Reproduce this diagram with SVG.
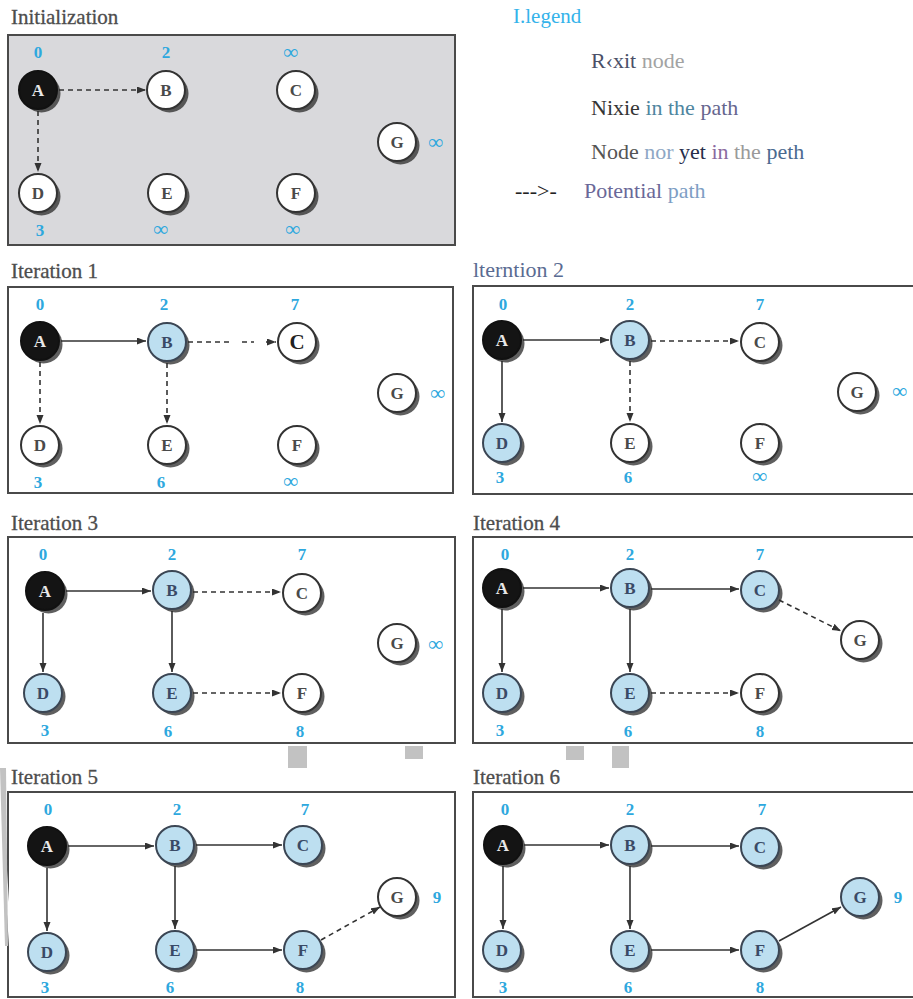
<svg xmlns="http://www.w3.org/2000/svg" width="913" height="999" viewBox="0 0 913 999" font-family="Liberation Serif, Times New Roman, serif">
<style>
.panel{stroke:#4a4a4a;stroke-width:2}
.title{font-size:21px;fill:#4d4d4d;stroke:#4d4d4d;stroke-width:0.3}
.sh{fill:#2a2a2a;opacity:0.75}
.nw{fill:#fff;stroke:#333;stroke-width:2}
.nb{fill:#bddff0;stroke:#3b4654;stroke-width:2}
.na{fill:#141414;stroke:#111;stroke-width:2}
.lt{font-weight:bold;font-size:17px;fill:#4a4a4a;text-anchor:middle}
.ltb{font-weight:bold;font-size:17px;fill:#3a4a66;text-anchor:middle}
.lta{font-weight:bold;font-size:17px;fill:#e8e8e8;text-anchor:middle}
.num{font-weight:bold;font-size:17px;fill:#2ea8de;text-anchor:middle}
.inf{font-weight:bold;font-size:21px;fill:#2ea8de;text-anchor:middle}
.e{stroke:#333;stroke-width:1.6;fill:none;marker-end:url(#ah)}
.d{stroke:#333;stroke-width:1.6;fill:none;stroke-dasharray:5 4;marker-end:url(#ah)}
.leg{font-size:22px}
.art{fill:#c2c2c2}
</style>
<defs>
<marker id="ah" markerUnits="userSpaceOnUse" markerWidth="10" markerHeight="8" refX="9" refY="3.5" orient="auto">
<path d="M0,0 L9,3.5 L0,7 z" fill="#333"/>
</marker>
</defs>

<!-- Legend -->
<g id="legend" font-family="Liberation Serif, serif">
<text x="513" y="23" font-size="21" fill="#35b3ea">I.legend</text>
<text x="591" y="68" class="leg"><tspan fill="#4a5068">R‹xit</tspan><tspan fill="#a3a3a3"> node</tspan></text>
<text x="591" y="115" class="leg"><tspan fill="#353535">Nixie</tspan><tspan fill="#4f86a0"> in the</tspan><tspan fill="#66668e"> path</tspan></text>
<text x="591" y="159" class="leg"><tspan fill="#555">Node</tspan><tspan fill="#8ea7c4"> nor</tspan><tspan fill="#262d4a"> yet</tspan><tspan fill="#8a6aa0"> in</tspan><tspan fill="#9a9a9a"> the</tspan><tspan fill="#4b6a90"> peth</tspan></text>
<text x="515" y="198" class="leg" fill="#222">---&gt;-</text>
<text x="584" y="198" class="leg"><tspan fill="#6a6898">Potential</tspan><tspan fill="#7e9ec4"> path</tspan></text>
</g>

<!-- Panels -->
<g id="panels" font-family="Liberation Serif, serif">
<text x="11" y="24" class="title">Initialization</text>
<rect x="8" y="35" width="447" height="210" fill="#d9d9dc" class="panel"/>
<text x="11" y="278" class="title">Iteration 1</text>
<rect x="8" y="287" width="445" height="206" fill="#fff" class="panel"/>
<text x="473" y="277" font-size="22" fill="#5a6b92">lterntion 2</text>
<rect x="473" y="286" width="460" height="208" fill="#fff" class="panel"/>
<text x="11" y="530" class="title">Iteration 3</text>
<rect x="8" y="537" width="447" height="206" fill="#fff" class="panel"/>
<text x="473" y="530" class="title">Iteration 4</text>
<rect x="473" y="537" width="460" height="206" fill="#fff" class="panel"/>
<text x="11" y="784" class="title">Iteration 5</text>
<rect x="8" y="792" width="447" height="205" fill="#fff" class="panel"/>
<text x="473" y="784" class="title">Iteration 6</text>
<rect x="473" y="792" width="460" height="205" fill="#fff" class="panel"/>
<polygon points="0,765 0,800 9,947 12,947" fill="#fff"/>
<polygon points="0,768 6,768 8,946 5,946" class="art"/>
<rect x="288" y="746" width="19" height="22" class="art"/>
<rect x="405" y="746" width="18" height="13" class="art"/>
<rect x="566" y="746" width="18" height="14" class="art"/>
<rect x="612" y="746" width="17" height="22" class="art"/>
</g>

<!-- Connectors -->
<g id="connectors">
<line x1="59" y1="90" x2="146" y2="90" class="d"/>
<line x1="38" y1="111" x2="38" y2="172" class="d"/>
<line x1="61" y1="341" x2="146" y2="341" class="e"/>
<path d="M188,342 H233 M242,342 H254 M266,342 H276" class="d"/>
<line x1="40" y1="362" x2="40" y2="424" class="d"/>
<line x1="167" y1="363" x2="167" y2="424" class="d"/>
<line x1="523" y1="340" x2="609" y2="340" class="e"/>
<line x1="651" y1="341" x2="739" y2="341" class="d"/>
<line x1="502" y1="361" x2="502" y2="422" class="e"/>
<line x1="630" y1="361" x2="630" y2="422" class="d"/>
<line x1="66" y1="591" x2="151" y2="591" class="e"/>
<line x1="193" y1="592" x2="281" y2="592" class="d"/>
<line x1="43" y1="613" x2="43" y2="672" class="e"/>
<line x1="172" y1="611" x2="172" y2="672" class="e"/>
<line x1="193" y1="693" x2="281" y2="693" class="d"/>
<line x1="523" y1="588" x2="609" y2="588" class="e"/>
<line x1="651" y1="589" x2="739" y2="589" class="e"/>
<line x1="502" y1="609" x2="502" y2="672" class="e"/>
<line x1="630" y1="609" x2="630" y2="672" class="e"/>
<line x1="651" y1="693" x2="739" y2="693" class="d"/>
<line x1="779" y1="600" x2="841" y2="631" class="d"/>
<line x1="68" y1="846" x2="154" y2="846" class="e"/>
<line x1="196" y1="845" x2="282" y2="845" class="e"/>
<line x1="47" y1="868" x2="47" y2="931" class="e"/>
<line x1="175" y1="866" x2="175" y2="929" class="e"/>
<line x1="196" y1="950" x2="282" y2="950" class="e"/>
<line x1="321" y1="940" x2="380" y2="907" class="d"/>
<line x1="524" y1="845" x2="609" y2="845" class="e"/>
<line x1="651" y1="846" x2="739" y2="846" class="e"/>
<line x1="503" y1="866" x2="503" y2="929" class="e"/>
<line x1="630" y1="866" x2="630" y2="929" class="e"/>
<line x1="651" y1="950" x2="739" y2="950" class="e"/>
<line x1="779" y1="941" x2="841" y2="907" class="e"/>
</g>

<g id="nodes" font-family="Liberation Serif, serif">
<!-- Initialization -->
<g id="init-A"><circle cx="41.5" cy="93.5" r="19" class="sh"/><circle cx="38" cy="90" r="19" class="na"/><text x="38" y="96" class="lta">A</text><text x="38" y="58" class="num">0</text></g>
<g id="init-B"><circle cx="169.5" cy="93.5" r="19" class="sh"/><circle cx="166" cy="90" r="19" class="nw"/><text x="166" y="96" class="lt">B</text><text x="166" y="58" class="num">2</text></g>
<g id="init-C"><circle cx="299.5" cy="93.5" r="19" class="sh"/><circle cx="296" cy="90" r="19" class="nw"/><text x="296" y="96" class="lt">C</text><text x="291" y="59" class="inf">∞</text></g>
<g id="init-G"><circle cx="400.5" cy="145.5" r="19" class="sh"/><circle cx="397" cy="142" r="19" class="nw"/><text x="397" y="148" class="lt">G</text><text x="436" y="149" class="inf">∞</text></g>
<g id="init-D"><circle cx="41.5" cy="196.5" r="19" class="sh"/><circle cx="38" cy="193" r="19" class="nw"/><text x="38" y="199" class="lt">D</text><text x="40" y="236" class="num">3</text></g>
<g id="init-E"><circle cx="170.5" cy="196.5" r="19" class="sh"/><circle cx="167" cy="193" r="19" class="nw"/><text x="167" y="199" class="lt">E</text><text x="161" y="236" class="inf">∞</text></g>
<g id="init-F"><circle cx="299.5" cy="196.5" r="19" class="sh"/><circle cx="296" cy="193" r="19" class="nw"/><text x="296" y="199" class="lt">F</text><text x="293" y="236" class="inf">∞</text></g>

<!-- Iteration 1 -->
<g id="it1-A"><circle cx="43.5" cy="344.5" r="19" class="sh"/><circle cx="40" cy="341" r="19" class="na"/><text x="40" y="347" class="lta">A</text><text x="40" y="310" class="num">0</text></g>
<g id="it1-B"><circle cx="170.5" cy="345.5" r="19" class="sh"/><circle cx="167" cy="342" r="19" class="nb"/><text x="167" y="348" class="ltb">B</text><text x="164" y="310" class="num">2</text></g>
<g id="it1-C"><circle cx="300.5" cy="345.5" r="19" class="sh"/><circle cx="297" cy="342" r="19" class="nw"/><text x="297" y="349" class="lt" style="font-size:21px;fill:#222">C</text><text x="295" y="310" class="num">7</text></g>
<g id="it1-G"><circle cx="400.5" cy="396.5" r="19" class="sh"/><circle cx="397" cy="393" r="19" class="nw"/><text x="397" y="399" class="lt">G</text><text x="438" y="400" class="inf">∞</text></g>
<g id="it1-D"><circle cx="43.5" cy="448.5" r="19" class="sh"/><circle cx="40" cy="445" r="19" class="nw"/><text x="40" y="451" class="lt">D</text><text x="38" y="488" class="num">3</text></g>
<g id="it1-E"><circle cx="170.5" cy="448.5" r="19" class="sh"/><circle cx="167" cy="445" r="19" class="nw"/><text x="167" y="451" class="lt">E</text><text x="161" y="488" class="num">6</text></g>
<g id="it1-F"><circle cx="300.5" cy="448.5" r="19" class="sh"/><circle cx="297" cy="445" r="19" class="nw"/><text x="297" y="451" class="lt">F</text><text x="291" y="488" class="inf">∞</text></g>

<!-- Iteration 2 -->
<g id="it2-A"><circle cx="505.5" cy="343.5" r="19" class="sh"/><circle cx="502" cy="340" r="19" class="na"/><text x="502" y="346" class="lta">A</text><text x="503" y="310" class="num">0</text></g>
<g id="it2-B"><circle cx="633.5" cy="343.5" r="19" class="sh"/><circle cx="630" cy="340" r="19" class="nb"/><text x="630" y="346" class="ltb">B</text><text x="630" y="310" class="num">2</text></g>
<g id="it2-C"><circle cx="763.5" cy="345.5" r="19" class="sh"/><circle cx="760" cy="342" r="19" class="nw"/><text x="760" y="348" class="lt">C</text><text x="760" y="310" class="num">7</text></g>
<g id="it2-G"><circle cx="860.5" cy="395.5" r="19" class="sh"/><circle cx="857" cy="392" r="19" class="nw"/><text x="857" y="398" class="lt">G</text><text x="900" y="398" class="inf">∞</text></g>
<g id="it2-D"><circle cx="505.5" cy="446.5" r="19" class="sh"/><circle cx="502" cy="443" r="19" class="nb"/><text x="502" y="449" class="ltb">D</text><text x="500" y="483" class="num">3</text></g>
<g id="it2-E"><circle cx="633.5" cy="446.5" r="19" class="sh"/><circle cx="630" cy="443" r="19" class="nw"/><text x="630" y="449" class="lt">E</text><text x="628" y="483" class="num">6</text></g>
<g id="it2-F"><circle cx="763.5" cy="446.5" r="19" class="sh"/><circle cx="760" cy="443" r="19" class="nw"/><text x="760" y="449" class="lt">F</text><text x="760" y="483" class="inf">∞</text></g>

<!-- Iteration 3 -->
<g id="it3-A"><circle cx="48.5" cy="594.5" r="19" class="sh"/><circle cx="45" cy="591" r="19" class="na"/><text x="45" y="597" class="lta">A</text><text x="43" y="560" class="num">0</text></g>
<g id="it3-B"><circle cx="175.5" cy="593.5" r="19" class="sh"/><circle cx="172" cy="590" r="19" class="nb"/><text x="172" y="596" class="ltb">B</text><text x="172" y="560" class="num">2</text></g>
<g id="it3-C"><circle cx="305.5" cy="596.5" r="19" class="sh"/><circle cx="302" cy="593" r="19" class="nw"/><text x="302" y="599" class="lt">C</text><text x="302" y="560" class="num">7</text></g>
<g id="it3-G"><circle cx="400.5" cy="646.5" r="19" class="sh"/><circle cx="397" cy="643" r="19" class="nw"/><text x="397" y="649" class="lt">G</text><text x="436" y="651" class="inf">∞</text></g>
<g id="it3-D"><circle cx="46.5" cy="696.5" r="19" class="sh"/><circle cx="43" cy="693" r="19" class="nb"/><text x="43" y="699" class="ltb">D</text><text x="45" y="736" class="num">3</text></g>
<g id="it3-E"><circle cx="175.5" cy="696.5" r="19" class="sh"/><circle cx="172" cy="693" r="19" class="nb"/><text x="172" y="699" class="ltb">E</text><text x="168" y="737" class="num">6</text></g>
<g id="it3-F"><circle cx="305.5" cy="696.5" r="19" class="sh"/><circle cx="302" cy="693" r="19" class="nw"/><text x="302" y="699" class="lt">F</text><text x="300" y="737" class="num">8</text></g>

<!-- Iteration 4 -->
<g id="it4-A"><circle cx="505.5" cy="591.5" r="19" class="sh"/><circle cx="502" cy="588" r="19" class="na"/><text x="502" y="594" class="lta">A</text><text x="505" y="560" class="num">0</text></g>
<g id="it4-B"><circle cx="633.5" cy="591.5" r="19" class="sh"/><circle cx="630" cy="588" r="19" class="nb"/><text x="630" y="594" class="ltb">B</text><text x="630" y="560" class="num">2</text></g>
<g id="it4-C"><circle cx="763.5" cy="593.5" r="19" class="sh"/><circle cx="760" cy="590" r="19" class="nb"/><text x="760" y="596" class="ltb">C</text><text x="760" y="560" class="num">7</text></g>
<g id="it4-G"><circle cx="863.5" cy="643.5" r="19" class="sh"/><circle cx="860" cy="640" r="19" class="nw"/><text x="860" y="646" class="lt">G</text></g>
<g id="it4-D"><circle cx="505.5" cy="696.5" r="19" class="sh"/><circle cx="502" cy="693" r="19" class="nb"/><text x="502" y="699" class="ltb">D</text><text x="500" y="736" class="num">3</text></g>
<g id="it4-E"><circle cx="633.5" cy="696.5" r="19" class="sh"/><circle cx="630" cy="693" r="19" class="nb"/><text x="630" y="699" class="ltb">E</text><text x="628" y="737" class="num">6</text></g>
<g id="it4-F"><circle cx="763.5" cy="696.5" r="19" class="sh"/><circle cx="760" cy="693" r="19" class="nw"/><text x="760" y="699" class="lt">F</text><text x="760" y="737" class="num">8</text></g>

<!-- Iteration 5 -->
<g id="it5-A"><circle cx="50.5" cy="849.5" r="19" class="sh"/><circle cx="47" cy="846" r="19" class="na"/><text x="47" y="852" class="lta">A</text><text x="48" y="815" class="num">0</text></g>
<g id="it5-B"><circle cx="178.5" cy="848.5" r="19" class="sh"/><circle cx="175" cy="845" r="19" class="nb"/><text x="175" y="851" class="ltb">B</text><text x="177" y="815" class="num">2</text></g>
<g id="it5-C"><circle cx="306.5" cy="848.5" r="19" class="sh"/><circle cx="303" cy="845" r="19" class="nb"/><text x="303" y="851" class="ltb">C</text><text x="305" y="815" class="num">7</text></g>
<g id="it5-G"><circle cx="400.5" cy="900.5" r="19" class="sh"/><circle cx="397" cy="897" r="19" class="nw"/><text x="397" y="903" class="lt">G</text><text x="437" y="903" class="num">9</text></g>
<g id="it5-D"><circle cx="50.5" cy="955.5" r="19" class="sh"/><circle cx="47" cy="952" r="19" class="nb"/><text x="47" y="958" class="ltb">D</text><text x="45" y="993" class="num">3</text></g>
<g id="it5-E"><circle cx="178.5" cy="953.5" r="19" class="sh"/><circle cx="175" cy="950" r="19" class="nb"/><text x="175" y="956" class="ltb">E</text><text x="170" y="993" class="num">6</text></g>
<g id="it5-F"><circle cx="306.5" cy="953.5" r="19" class="sh"/><circle cx="303" cy="950" r="19" class="nb"/><text x="303" y="956" class="ltb">F</text><text x="300" y="993" class="num">8</text></g>

<!-- Iteration 6 -->
<g id="it6-A"><circle cx="506.5" cy="848.5" r="19" class="sh"/><circle cx="503" cy="845" r="19" class="na"/><text x="503" y="851" class="lta">A</text><text x="505" y="815" class="num">0</text></g>
<g id="it6-B"><circle cx="633.5" cy="848.5" r="19" class="sh"/><circle cx="630" cy="845" r="19" class="nb"/><text x="630" y="851" class="ltb">B</text><text x="630" y="815" class="num">2</text></g>
<g id="it6-C"><circle cx="763.5" cy="850.5" r="19" class="sh"/><circle cx="760" cy="847" r="19" class="nb"/><text x="760" y="853" class="ltb">C</text><text x="762" y="815" class="num">7</text></g>
<g id="it6-G"><circle cx="863.5" cy="900.5" r="19" class="sh"/><circle cx="860" cy="897" r="19" class="nb"/><text x="860" y="903" class="ltb">G</text><text x="898" y="903" class="num">9</text></g>
<g id="it6-D"><circle cx="505.5" cy="953.5" r="19" class="sh"/><circle cx="502" cy="950" r="19" class="nb"/><text x="502" y="956" class="ltb">D</text><text x="503" y="993" class="num">3</text></g>
<g id="it6-E"><circle cx="633.5" cy="953.5" r="19" class="sh"/><circle cx="630" cy="950" r="19" class="nb"/><text x="630" y="956" class="ltb">E</text><text x="628" y="993" class="num">6</text></g>
<g id="it6-F"><circle cx="763.5" cy="953.5" r="19" class="sh"/><circle cx="760" cy="950" r="19" class="nb"/><text x="760" y="956" class="ltb">F</text><text x="760" y="993" class="num">8</text></g>
</g>
</svg>
